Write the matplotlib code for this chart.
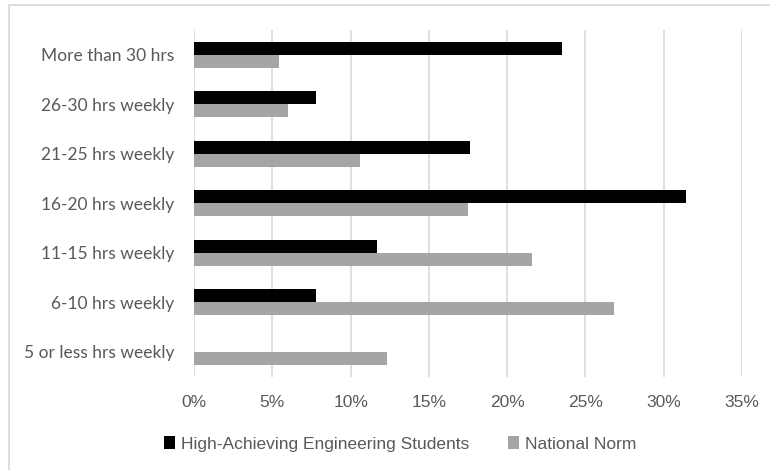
import numpy as np
import matplotlib
matplotlib.use('Agg')
import matplotlib.pyplot as plt
from matplotlib.patches import Rectangle

plt.rcParams['font.family'] = ['Liberation Sans', 'DejaVu Sans']

categories = ['More than 30 hrs', '26-30 hrs weekly', '21-25 hrs weekly', '16-20 hrs weekly',
              '11-15 hrs weekly', '6-10 hrs weekly', '5 or less hrs weekly']
high_achieving = [23.5, 7.8, 17.6, 31.4, 11.7, 7.8, 0.0]
national_norm = [5.4, 6.0, 10.6, 17.5, 21.6, 26.8, 12.3]
series_names = ['High-Achieving Engineering Students', 'National Norm']

txt = '#595959'
fig = plt.figure(figsize=(7.7, 4.7), dpi=100)
ax = fig.add_axes([194/770, 1-376.5/470, 548/770, 346.5/470])

y = np.arange(len(categories))
h = 0.26
ax.barh(y - h/2, high_achieving, height=h, color='black', label=series_names[0])
ax.barh(y + h/2, national_norm, height=h, color='#a5a5a5', label=series_names[1])

ax.set_ylim(len(categories) - 0.5, -0.5)
ax.set_xlim(0, 35)
ax.set_xticks(np.arange(0, 36, 5))
ax.set_xticklabels(['%d%%' % v for v in range(0, 36, 5)])
ax.set_yticks(y)
ax.set_yticklabels(categories, fontfamily=['Lato', 'DejaVu Sans'], fontsize=12.5)
ax.grid(axis='x', color='#d9d9d9', linewidth=1.2)
ax.set_axisbelow(True)
for s in ax.spines.values():
    s.set_visible(False)
ax.tick_params(axis='both', length=0, colors=txt)
ax.tick_params(axis='x', pad=13, labelsize=12.5)
ax.tick_params(axis='y', pad=14)

fig.legend(loc='center', bbox_to_anchor=(400/770, 1-444/470), ncol=2, frameon=False,
           fontsize=12.5, labelcolor=txt, handlelength=0.65, handleheight=0.75,
           handletextpad=0.35, columnspacing=2.2)

fig.patches.append(Rectangle((9/770, -0.1), 1.2, 1-5/470+0.1, transform=fig.transFigure,
                             fill=False, edgecolor='#d9d9d9', linewidth=1.3))

fig.savefig('out.png', dpi=100)
